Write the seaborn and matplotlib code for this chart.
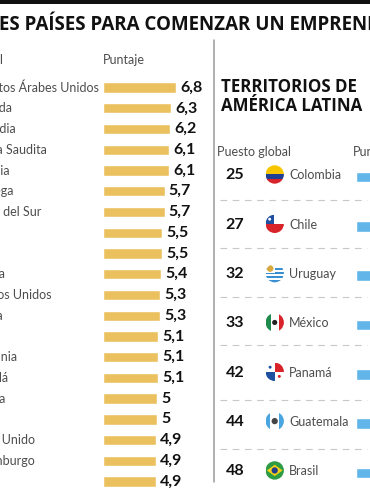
import matplotlib
matplotlib.use("Agg")
import matplotlib.pyplot as plt
from matplotlib.patches import Circle, Rectangle, Polygon
import pandas as pd
import seaborn as sns

# ==============================
# DATA
# ==============================

paises = ["Emiratos Árabes Unidos", "Holanda", "Finlandia", "Arabia Saudita", "Lituania",
          "Noruega", "Corea del Sur", "Suiza", "Qatar", "España",
          "Estados Unidos", "Suecia", "Rusia", "Alemania", "Canadá",
          "Austria", "India", "Reino Unido", "Luxemburgo", "Japón"]
puntajes = [6.8, 6.3, 6.2, 6.1, 6.1, 5.7, 5.7, 5.5, 5.5, 5.4,
            5.3, 5.3, 5.1, 5.1, 5.1, 5, 5, 4.9, 4.9, 4.9]

latam = ["Colombia", "Chile", "Uruguay", "México", "Panamá", "Guatemala", "Brasil"]
puestos = [25, 27, 32, 33, 42, 44, 48]
puntajes_latam = [4.8, 4.7, 4.6, 4.6, 4.3, 4.2, 4.1]

# ==============================
# CONFIGURATION
# ==============================

W, H = 370, 490
sns.set_theme(style="white")
plt.rcParams["font.family"] = ["Lato", "DejaVu Sans"]

GOLD = "#EBC15F"
BLUE = "#62B5E8"
GREY = "#4d4d4d"
PX = 10.88  # pixels per score unit
LABEL_SIZE = 9

fig = plt.figure(figsize=(W / 100, H / 100), dpi=100, facecolor="white")


def px_axes(left, top, width, height):
    return fig.add_axes([left / W, 1 - (top + height) / H, width / W, height / H])


# ==============================
# BARS
# ==============================

TOP_L, PITCH_L = 77.2, 20.74
TOP_R, PITCH_R = 152.3, 49.33

ax_l = px_axes(102.5, TOP_L, 7.5 * PX, PITCH_L * len(paises))
sns.barplot(data=pd.DataFrame({"pais": paises, "puntaje": puntajes}),
            y="pais", x="puntaje", color=GOLD, saturation=1, width=0.5, ax=ax_l)
ax_l.set_xlim(0, 7.5)
ax_l.bar_label(ax_l.containers[0], labels=[f"{v:g}".replace(".", ",") for v in puntajes],
               padding=3, fontsize=11.5, fontweight="bold", color="#111111")

ax_r = px_axes(355.5, TOP_R, 7.5 * PX, PITCH_R * len(latam))
sns.barplot(data=pd.DataFrame({"pais": latam, "puntaje": puntajes_latam}),
            y="pais", x="puntaje", color=BLUE, saturation=1, width=0.22, ax=ax_r)
ax_r.set_xlim(0, 7.5)

for ax in (ax_l, ax_r):
    ax.axis("off")

# ==============================
# OVERLAY (pixel coordinates)
# ==============================

over = fig.add_axes([0, 0, 1, 1], zorder=5)
over.set_xlim(0, W)
over.set_ylim(H, 0)
over.axis("off")
over.patch.set_alpha(0)

over.add_patch(Rectangle((0, 0), W, 3.6, color="#111111", lw=0))
over.text(-104, 24, "LOS MEJORES PAÍSES PARA COMENZAR UN EMPRENDIMIENTO",
          family="Open Sans", fontweight="bold", fontsize=13.5, color="#111111",
          ha="left", va="center")
over.plot([213.5, 213.5], [40, 482], color="#9a9a9a", lw=1.1)

over.text(3, 60, "Puesto global", fontsize=LABEL_SIZE, color=GREY, ha="right", va="center")
over.text(103, 60, "Puntaje", fontsize=LABEL_SIZE, color=GREY, ha="left", va="center")

# los nombres van alineados a la izquierda y el más largo termina junto a su barra
largo = over.text(0, 0, paises[0], fontsize=LABEL_SIZE)
ancho = largo.get_window_extent(fig.canvas.get_renderer()).width
largo.remove()
for i, nombre in enumerate(paises):
    over.text(99 - ancho, TOP_L + PITCH_L * (i + 0.5), nombre, fontsize=LABEL_SIZE, color=GREY,
              ha="left", va="center")

over.text(221, 87, "TERRITORIOS DE", family="Open Sans", fontweight="bold", fontsize=12.2,
          color="#111111", ha="left", va="center")
over.text(221, 106, "AMÉRICA LATINA", family="Open Sans", fontweight="bold", fontsize=12.2,
          color="#111111", ha="left", va="center")
over.text(217, 152, "Puesto global", fontsize=LABEL_SIZE, color=GREY, ha="left", va="center")
over.text(353, 152, "Puntaje", fontsize=LABEL_SIZE, color=GREY, ha="left", va="center")


# ==============================
# FLAGS
# ==============================

def flag(nombre, cx, cy, r=9.2):
    disc = Circle((cx, cy), r, transform=over.transData, fc="white", ec="none")
    over.add_patch(disc)

    def rect(x0, y0, x1, y1, color):
        p = Rectangle((cx + x0 * r, cy + y0 * r), (x1 - x0) * r, (y1 - y0) * r, fc=color, ec="none")
        over.add_patch(p)
        p.set_clip_path(disc)

    def dot(x, y, s, color):
        p = Circle((cx + x * r, cy + y * r), s * r, fc=color, ec="none")
        over.add_patch(p)
        p.set_clip_path(disc)

    if nombre == "Colombia":
        rect(-1, -1, 1, 0, "#F7C600")
        rect(-1, 0, 1, 0.5, "#1F3F94")
        rect(-1, 0.5, 1, 1, "#D8232A")
    elif nombre == "Chile":
        rect(-1, 0, 1, 1, "#D8232A")
        rect(-1, -1, -0.1, 0, "#1F4FA0")
        dot(-0.55, -0.5, 0.16, "white")
    elif nombre == "Uruguay":
        for y in (-0.55, -0.1, 0.35, 0.8):
            rect(-1, y, 1, y + 0.22, "#3A8FD0")
        rect(-1, -1, 0, 0, "white")
        dot(-0.5, -0.5, 0.36, "#D9A93F")
    elif nombre == "México":
        rect(-1, -1, -0.45, 1, "#1E8A4C")
        rect(0.45, -1, 1, 1, "#D8232A")
        dot(0, 0, 0.28, "#222222")
    elif nombre == "Panamá":
        rect(0, -1, 1, 0, "#D8232A")
        rect(-1, 0, 0, 1, "#1F4FA0")
        dot(-0.5, -0.5, 0.16, "#1F4FA0")
        dot(0.5, 0.5, 0.16, "#D8232A")
    elif nombre == "Guatemala":
        rect(-1, -1, -0.5, 1, "#49A6E0")
        rect(0.5, -1, 1, 1, "#49A6E0")
        dot(0, 0, 0.34, "#444444")
    elif nombre == "Brasil":
        rect(-1, -1, 1, 1, "#2E9B45")
        p = Polygon([(cx - 0.85 * r, cy), (cx, cy - 0.62 * r), (cx + 0.85 * r, cy), (cx, cy + 0.62 * r)],
                    fc="#F7D117", ec="none")
        over.add_patch(p)
        dot(0, 0, 0.34, "#233F8C")


# ==============================
# LATIN AMERICA ROWS
# ==============================

for i, (nombre, puesto) in enumerate(zip(latam, puestos)):
    y = TOP_R + PITCH_R * (i + 0.5)
    over.text(235, y - 1.5, str(puesto), fontsize=11.5, fontweight="bold", color="#111111",
              ha="center", va="center")
    flag(nombre, 274.7, y - 2.5)
    over.text(289, y - 1.5, nombre, fontsize=LABEL_SIZE, color=GREY, ha="left", va="center")

for y in (200, 248, 297, 345, 400, 449):
    over.plot([220, 367], [y, y], color="#c8c8c8", lw=0.8, dashes=(6, 5))

fig.savefig("out.png", dpi=100)
plt.close(fig)
